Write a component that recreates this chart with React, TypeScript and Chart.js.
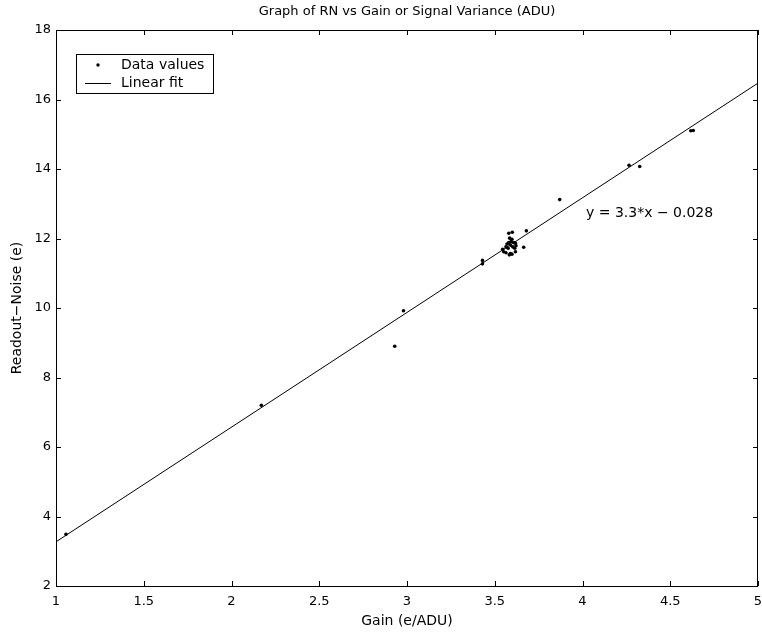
import React, { useEffect, useRef } from "react";
import { Chart, registerables } from "chart.js";

Chart.register(...registerables);

const FONT = '"DejaVu Sans", "Liberation Sans", Arial, sans-serif';

const titleText = "Graph of RN vs Gain or Signal Variance (ADU)";
const xTitle = "Gain (e/ADU)";
const yTitle = "Readout\u2212Noise (e)";
const legendLabels = ["Data values", "Linear fit"];
const fitLabel = "y = 3.3*x \u2212 0.028";

const gainValues = [
  1.057, 2.17, 2.93, 2.98, 3.43, 3.43,
  3.585, 3.598, 3.593, 3.58, 3.57, 3.608, 3.618, 3.589, 3.564, 3.602, 3.621,
  3.545, 3.576, 3.614, 3.551, 3.564, 3.589, 3.598, 3.583, 3.618, 3.665,
  3.60, 3.58, 3.68, 3.87, 4.265, 4.326, 4.617, 4.631,
];
const noiseValues = [
  3.49, 7.2, 8.9, 9.92, 11.37, 11.27,
  12.01, 11.98, 11.91, 11.88, 11.84, 11.88, 11.86, 11.81, 11.76, 11.76, 11.79,
  11.69, 11.72, 11.72, 11.62, 11.59, 11.57, 11.55, 11.53, 11.62, 11.75,
  12.18, 12.15, 12.22, 13.12, 14.11, 14.07, 15.10, 15.11,
];

const fitX = [1, 5];
const fitY = [3.272, 16.472];

const annotX = 4.02;
const annotY = 12.73;

const xMin = 1, xMax = 5, xStep = 0.5;
const yMin = 2, yMax = 18, yStep = 2;

const framePlugin = {
  id: "matlabFrame",
  afterDraw(chart: any) {
    const { ctx, chartArea } = chart;
    const { left, right, top, bottom } = chartArea;
    const xs = chart.scales.x;
    const ys = chart.scales.y;
    ctx.save();
    ctx.strokeStyle = "#000";
    ctx.lineWidth = 1;
    const tl = 5;
    ctx.beginPath();
    xs.ticks.forEach((t: any) => {
      const px = Math.round(xs.getPixelForValue(t.value)) + 0.5;
      ctx.moveTo(px, bottom);
      ctx.lineTo(px, bottom - tl);
      ctx.moveTo(px, top);
      ctx.lineTo(px, top + tl);
    });
    ys.ticks.forEach((t: any) => {
      const py = Math.round(ys.getPixelForValue(t.value)) + 0.5;
      ctx.moveTo(left, py);
      ctx.lineTo(left + tl, py);
      ctx.moveTo(right, py);
      ctx.lineTo(right - tl, py);
    });
    ctx.stroke();
    ctx.strokeRect(Math.round(left) + 0.5, Math.round(top) + 0.5, Math.round(right - left) - 1, Math.round(bottom - top));

    ctx.fillStyle = "#000";
    ctx.font = `13px ${FONT}`;
    ctx.textAlign = "center";
    ctx.textBaseline = "middle";
    ctx.fillText(titleText, (left + right) / 2, 12);

    ctx.font = `14px ${FONT}`;
    ctx.textAlign = "left";
    ctx.fillText(fitLabel, xs.getPixelForValue(annotX), ys.getPixelForValue(annotY));

    const lx = left + 20, ly = top + 24, lw = 137, lh = 39;
    ctx.fillStyle = "#fff";
    ctx.fillRect(lx, ly, lw, lh);
    ctx.strokeRect(Math.round(lx) + 0.5, Math.round(ly) + 0.5, lw, lh);
    ctx.fillStyle = "#000";
    ctx.beginPath();
    ctx.arc(lx + 22, ly + 11, 1.7, 0, Math.PI * 2);
    ctx.fill();
    ctx.beginPath();
    ctx.moveTo(lx + 9, ly + 29.5);
    ctx.lineTo(lx + 35, ly + 29.5);
    ctx.stroke();
    ctx.font = `14px ${FONT}`;
    ctx.textAlign = "left";
    ctx.textBaseline = "middle";
    ctx.fillText(legendLabels[0], lx + 45, ly + 11);
    ctx.fillText(legendLabels[1], lx + 45, ly + 29);
    ctx.restore();
  },
};

export default function App() {
  const ref = useRef<HTMLCanvasElement>(null);
  useEffect(() => {
    document.body.style.margin = "0";
    const canvas = ref.current!;
    const points = gainValues.map((g, i) => ({ x: g, y: noiseValues[i] }));
    const fit = fitX.map((x, i) => ({ x, y: fitY[i] }));
    const chart = new Chart(canvas, {
      type: "scatter",
      data: {
        datasets: [
          {
            label: legendLabels[0],
            data: points,
            pointRadius: 1.8,
            pointBackgroundColor: "#000",
            pointBorderWidth: 0,
            borderColor: "#000",
          },
          {
            label: legendLabels[1],
            data: fit,
            showLine: true,
            pointRadius: 0,
            borderColor: "#000",
            borderWidth: 1,
          },
        ],
      },
      options: {
        responsive: false,
        animation: false,
        devicePixelRatio: 1,
        layout: { padding: { top: 30, right: 2, left: 0, bottom: 0 } },
        plugins: {
          legend: { display: false },
          title: { display: false },
          tooltip: { enabled: false },
        },
        scales: {
          x: {
            type: "linear",
            min: xMin,
            max: xMax,
            grid: { display: false, drawTicks: false },
            border: { display: false },
            ticks: {
              stepSize: xStep,
              padding: 8,
              color: "#000",
              font: { family: FONT, size: 13 },
              maxRotation: 0,
              autoSkip: false,
              callback: (v: any) => String(Number(v)),
            },
            title: {
              display: true,
              text: xTitle,
              color: "#000",
              font: { family: FONT, size: 14 },
              padding: { top: 0, bottom: 3 },
            },
            afterFit(scale: any) {
              scale.height = 47;
              scale.paddingLeft = 0;
              scale.paddingRight = 0;
            },
          },
          y: {
            type: "linear",
            min: yMin,
            max: yMax,
            grid: { display: false, drawTicks: false },
            border: { display: false },
            ticks: {
              stepSize: yStep,
              padding: 5,
              color: "#000",
              font: { family: FONT, size: 13 },
              autoSkip: false,
              callback: (v: any) => String(Number(v)),
            },
            title: {
              display: true,
              text: yTitle,
              color: "#000",
              font: { family: FONT, size: 14 },
              padding: { top: 8.6, bottom: 0 },
            },
            afterFit(scale: any) {
              scale.width = 56;
              scale.paddingTop = 0;
              scale.paddingBottom = 0;
            },
          },
        },
      },
      plugins: [framePlugin],
    });
    return () => chart.destroy();
  }, []);
  return (
    <div style={{ width: 762, height: 633, background: "#fff" }}>
      <canvas ref={ref} width={762} height={633} style={{ display: "block" }} />
    </div>
  );
}
